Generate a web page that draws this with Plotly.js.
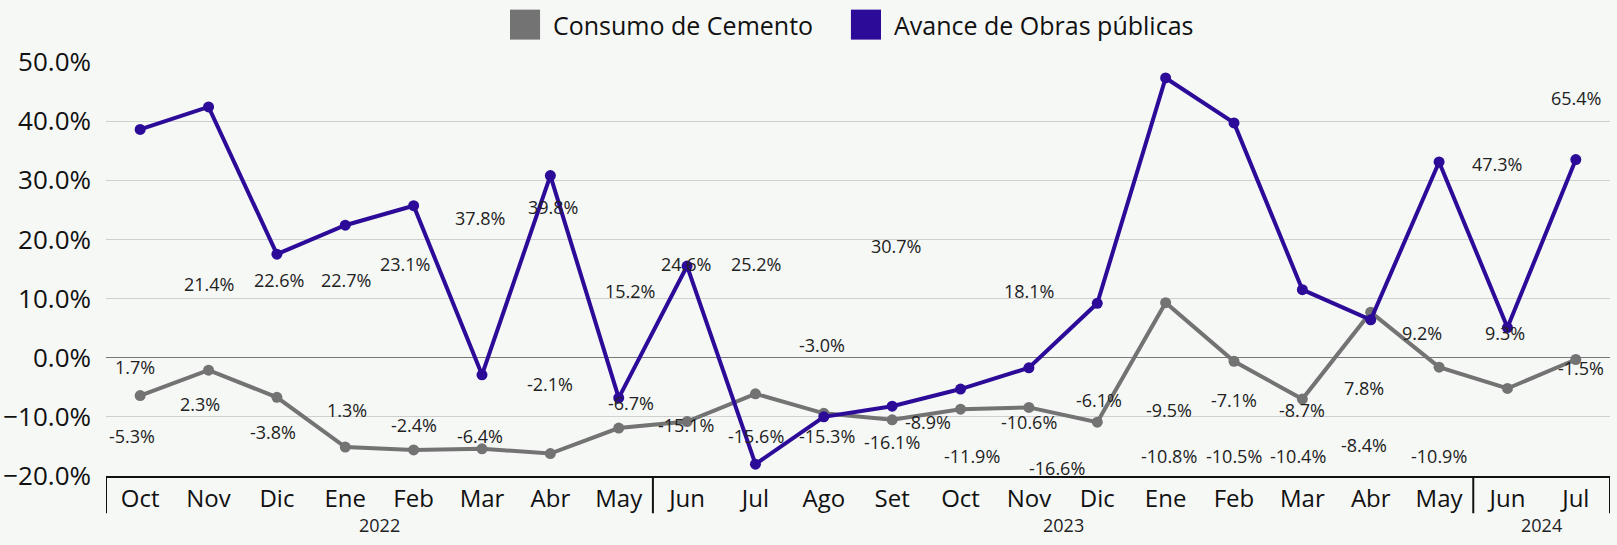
<!DOCTYPE html>
<html>
<head>
<meta charset="utf-8">
<script src="https://cdn.plot.ly/plotly-3.0.1.min.js"></script>
<style>
  html, body { margin: 0; padding: 0; background: #f6f8f6; }
  #chart { width: 1617px; height: 545px; }
</style>
</head>
<body>
<div id="chart"></div>
<script>
// ---- Data ----
const months = ["Oct","Nov","Dic","Ene","Feb","Mar","Abr","May","Jun","Jul","Ago","Set","Oct","Nov","Dic","Ene","Feb","Mar","Abr","May","Jun","Jul"];
const years  = ["2022","2022","2022","2022","2022","2022","2022","2022",
                "2023","2023","2023","2023","2023","2023","2023","2023","2023","2023","2023","2023",
                "2024","2024"];
const consumoCemento = [-6.4,-2.1,-6.7,-15.1,-15.6,-15.4,-16.2,-11.9,-10.8,-6.1,-9.4,-10.5,-8.7,-8.4,-10.9,9.3,-0.6,-7.0,7.7,-1.6,-5.2,-0.3];
const avanceObras    = [38.6,42.4,17.5,22.4,25.7,-2.9,30.8,-6.8,15.5,-18.0,-10.0,-8.2,-5.3,-1.7,9.2,47.3,39.7,11.5,6.4,33.1,5.1,33.5];

// data labels as they appear in the picture (text and the value height where they sit)
const labelsUpper  = ["1.7%","21.4%","22.6%","22.7%","23.1%","37.8%","39.8%","15.2%","24.6%","25.2%","-3.0%","30.7%","-8.9%","18.1%","-6.1%","-9.5%","-7.1%","-8.7%","7.8%","9.2%","47.3%","65.4%"];
const labelsUpperY = [-1.6,12.5,13.2,13.2,15.8,23.6,25.4,11.3,15.8,15.8,2.1,18.9,-10.9,11.3,-7.2,-8.8,-7.1,-8.8,-5.2,4.1,32.8,43.9];
const labelsLower  = ["-5.3%","2.3%","-3.8%","1.3%","-2.4%","-6.4%","-2.1%","-6.7%","-15.1%","-15.6%","-15.3%","-16.1%","-11.9%","-10.6%","-16.6%","-10.8%","-10.5%","-10.4%","-8.4%","-10.9%","9.3%","-1.5%"];
const labelsLowerY = [-13.2,-7.9,-12.5,-8.8,-11.3,-13.2,-4.4,-7.7,-11.3,-13.2,-13.2,-14.3,-16.7,-10.9,-18.6,-16.6,-16.6,-16.6,-14.7,-16.6,4.1,-1.7];

// ---- Styling ----
const labelUpperDx = [-5,0,2,1,-9,-2,3,11,-1,1,-2,4,-33,0,2,3,0,0,-7,-17,-10,0];
const labelLowerDx = [-8,-9,-4,2,0,-2,0,12,-1,1,3,0,11,0,-40,3,0,-4,-7,0,-2,5];
const GREY = "#737373", PURPLE = "#2c0b98", BG = "#f6f8f6";
const FONT = "Open Sans, Noto Sans, sans-serif";

const keys = months.map((m, i) => years[i] + "-" + m + "-" + i);

const traces = [
  {
    x: keys, y: consumoCemento, type: "scatter", mode: "lines+markers",
    name: "Consumo de Cemento", showlegend: false,
    line: { color: GREY, width: 4 }, marker: { color: GREY, size: 11 },
    hoverinfo: "skip"
  },
  {
    x: keys, y: avanceObras, type: "scatter", mode: "lines+markers",
    name: "Avance de Obras públicas", showlegend: false,
    line: { color: PURPLE, width: 4 }, marker: { color: PURPLE, size: 11 },
    hoverinfo: "skip"
  }
];

const annotations = [];
labelsUpper.forEach((t, i) => annotations.push({
  x: keys[i], y: labelsUpperY[i], text: t, showarrow: false, xshift: labelUpperDx[i],
  font: { family: FONT, size: 18, color: "#222" }
}));
labelsLower.forEach((t, i) => annotations.push({
  x: keys[i], y: labelsLowerY[i], text: t, showarrow: false, xshift: labelLowerDx[i],
  font: { family: FONT, size: 18, color: "#222" }
}));

// year group labels and dividers derived from the years array
const shapes = [];
let start = 0;
for (let i = 1; i <= years.length; i++) {
  if (i === years.length || years[i] !== years[start]) {
    annotations.push({
      x: (start + i - 1) / 2, xref: "x", y: 0, yref: "paper", yshift: -49,
      text: years[start], showarrow: false, yanchor: "middle",
      font: { family: FONT, size: 18, color: "#222" }
    });
    shapes.push({ type: "line", xref: "x", yref: "paper", x0: start - 0.5, x1: start - 0.5, y0: 0, y1: -0.09,
      line: { color: "#111", width: 2 } });
    start = i;
  }
}
shapes.push({ type: "line", xref: "x", yref: "paper", x0: years.length - 0.5, x1: years.length - 0.5, y0: 0, y1: -0.09,
  line: { color: "#111", width: 2 } });

// legend (large square keys)
const legendItems = [
  { name: "Consumo de Cemento", color: GREY, x0: 0.2686 },
  { name: "Avance de Obras públicas", color: PURPLE, x0: 0.4953 }
];
legendItems.forEach(it => {
  shapes.push({ type: "rect", xref: "paper", yref: "paper", x0: it.x0, x1: it.x0 + 0.02, y0: 1.0541, y1: 1.1265,
    fillcolor: it.color, line: { width: 0 } });
  annotations.push({ xref: "paper", yref: "paper", x: it.x0 + 0.0272, y: 1.0903, xanchor: "left", yanchor: "middle",
    text: it.name, showarrow: false, font: { family: FONT, size: 25, color: "#111" } });
});

const layout = {
  width: 1617, height: 545,
  margin: { l: 106, r: 7, t: 62, b: 69 },
  paper_bgcolor: BG, plot_bgcolor: BG,
  font: { family: FONT, color: "#111" },
  showlegend: false,
  xaxis: {
    type: "category", range: [-0.5, keys.length - 0.5],
    tickmode: "array", tickvals: keys, ticktext: months,
    tickfont: { family: FONT, size: 24, color: "#111" },
    showgrid: false, zeroline: false,
    showline: true, linecolor: "#111", linewidth: 2,
    ticks: "", ticklabelstandoff: 0
  },
  yaxis: {
    range: [-20, 50], tick0: 0, dtick: 10,
    ticksuffix: "%", tickformat: ".1f",
    tickfont: { family: FONT, size: 26, color: "#111" },
    gridcolor: "#cfcfcf", gridwidth: 1,
    zeroline: true, zerolinecolor: "#777", zerolinewidth: 1,
    showline: false, ticks: "", ticklabelstandoff: 14
  },
  annotations: annotations,
  shapes: shapes
};

Plotly.newPlot("chart", traces, layout, { displayModeBar: false, staticPlot: true });
</script>
</body>
</html>
